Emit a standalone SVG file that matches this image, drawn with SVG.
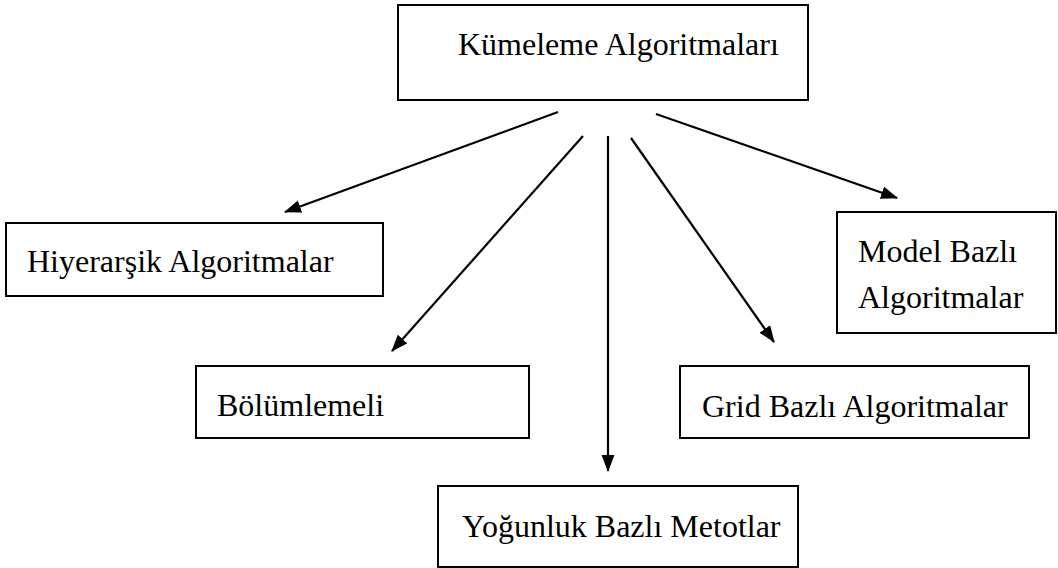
<svg xmlns="http://www.w3.org/2000/svg" width="1058" height="568" viewBox="0 0 1058 568">
<style>
.box{fill:#fff;stroke:#000;stroke-width:2}
.t{font-family:"Liberation Serif","Times New Roman",serif;font-size:32px;fill:#000}
.c{stroke:#000;stroke-width:2.2;fill:none}
</style>
<defs>
<marker id="ah" markerUnits="userSpaceOnUse" markerWidth="18" markerHeight="14" refX="16" refY="6.5" orient="auto">
<path d="M0,0 L17,6.5 L0,13 z" fill="#000"/>
</marker>
</defs>
<rect width="1058" height="568" fill="#fff"/>
<g id="connectors">
<line class="c" x1="558" y1="112" x2="285" y2="212" marker-end="url(#ah)"/>
<line class="c" x1="583" y1="136" x2="392" y2="351" marker-end="url(#ah)"/>
<line class="c" x1="608" y1="136" x2="608" y2="471" marker-end="url(#ah)"/>
<line class="c" x1="631" y1="138" x2="774" y2="342" marker-end="url(#ah)"/>
<line class="c" x1="656" y1="114" x2="897" y2="198" marker-end="url(#ah)"/>
</g>
<g id="kumeleme">
<rect class="box" x="398" y="5" width="410" height="95"/>
<text class="t" x="458" y="55">Kümeleme Algoritmaları</text>
</g>
<g id="hiyerarsik">
<rect class="box" x="6" y="223" width="377" height="73"/>
<text class="t" x="27" y="272">Hiyerarşik Algoritmalar</text>
</g>
<g id="model">
<rect class="box" x="837" y="212" width="219" height="121"/>
<text class="t" x="858" y="262">Model Bazlı</text>
<text class="t" x="858" y="308">Algoritmalar</text>
</g>
<g id="bolumlemeli">
<rect class="box" x="196" y="366" width="333" height="72"/>
<text class="t" x="217" y="416">Bölümlemeli</text>
</g>
<g id="grid">
<rect class="box" x="680" y="366" width="349" height="72"/>
<text class="t" x="702" y="417">Grid Bazlı Algoritmalar</text>
</g>
<g id="yogunluk">
<rect class="box" x="438" y="486" width="360" height="81"/>
<text class="t" x="462" y="537">Yoğunluk Bazlı Metotlar</text>
</g>
</svg>
